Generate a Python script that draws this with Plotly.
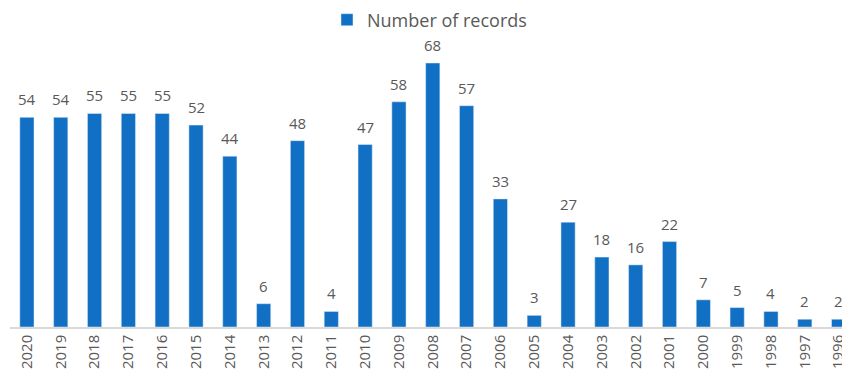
import plotly.graph_objects as go

years = ["2020", "2019", "2018", "2017", "2016", "2015", "2014", "2013", "2012", "2011",
         "2010", "2009", "2008", "2007", "2006", "2005", "2004", "2003", "2002", "2001",
         "2000", "1999", "1998", "1997", "1996"]
records = [54, 54, 55, 55, 55, 52, 44, 6, 48, 4, 47, 58, 68, 57, 33, 3, 27, 18, 16, 22,
           7, 5, 4, 2, 2]

GRAY = "#595959"

fig = go.Figure()
fig.add_trace(go.Bar(
    x=years, y=records, name="Number of records",
    marker=dict(color="#1170C4"),
))
for i, v in enumerate(records):
    fig.add_annotation(x=i, y=v, text=str(v), showarrow=False,
                       xref="x", yref="y", yanchor="bottom", yshift=6,
                       font=dict(size=15, color=GRAY, family="Open Sans"))

W, H = 842, 372
fig.update_layout(
    width=W, height=H,
    margin=dict(l=10, r=0, t=30, b=45, autoexpand=False),
    paper_bgcolor="white", plot_bgcolor="white",
    font=dict(family="Open Sans", color=GRAY),
    bargap=0.58,
    showlegend=True,
    legend=dict(orientation="h", xref="container", x=327 / W, xanchor="left",
                yref="container", y=1 - 20 / H, yanchor="middle",
                font=dict(size=18, color=GRAY)),
    xaxis=dict(type="category", range=[-0.5, 24.1], tickangle=-90, automargin=False,
               tickfont=dict(size=15, color=GRAY), showline=True,
               linecolor="#D9D9D9", linewidth=1.5, ticks="", showgrid=False),
    yaxis=dict(range=[0, 76.5], visible=False, showgrid=False, automargin=False),
)
fig.write_html("out.html")
